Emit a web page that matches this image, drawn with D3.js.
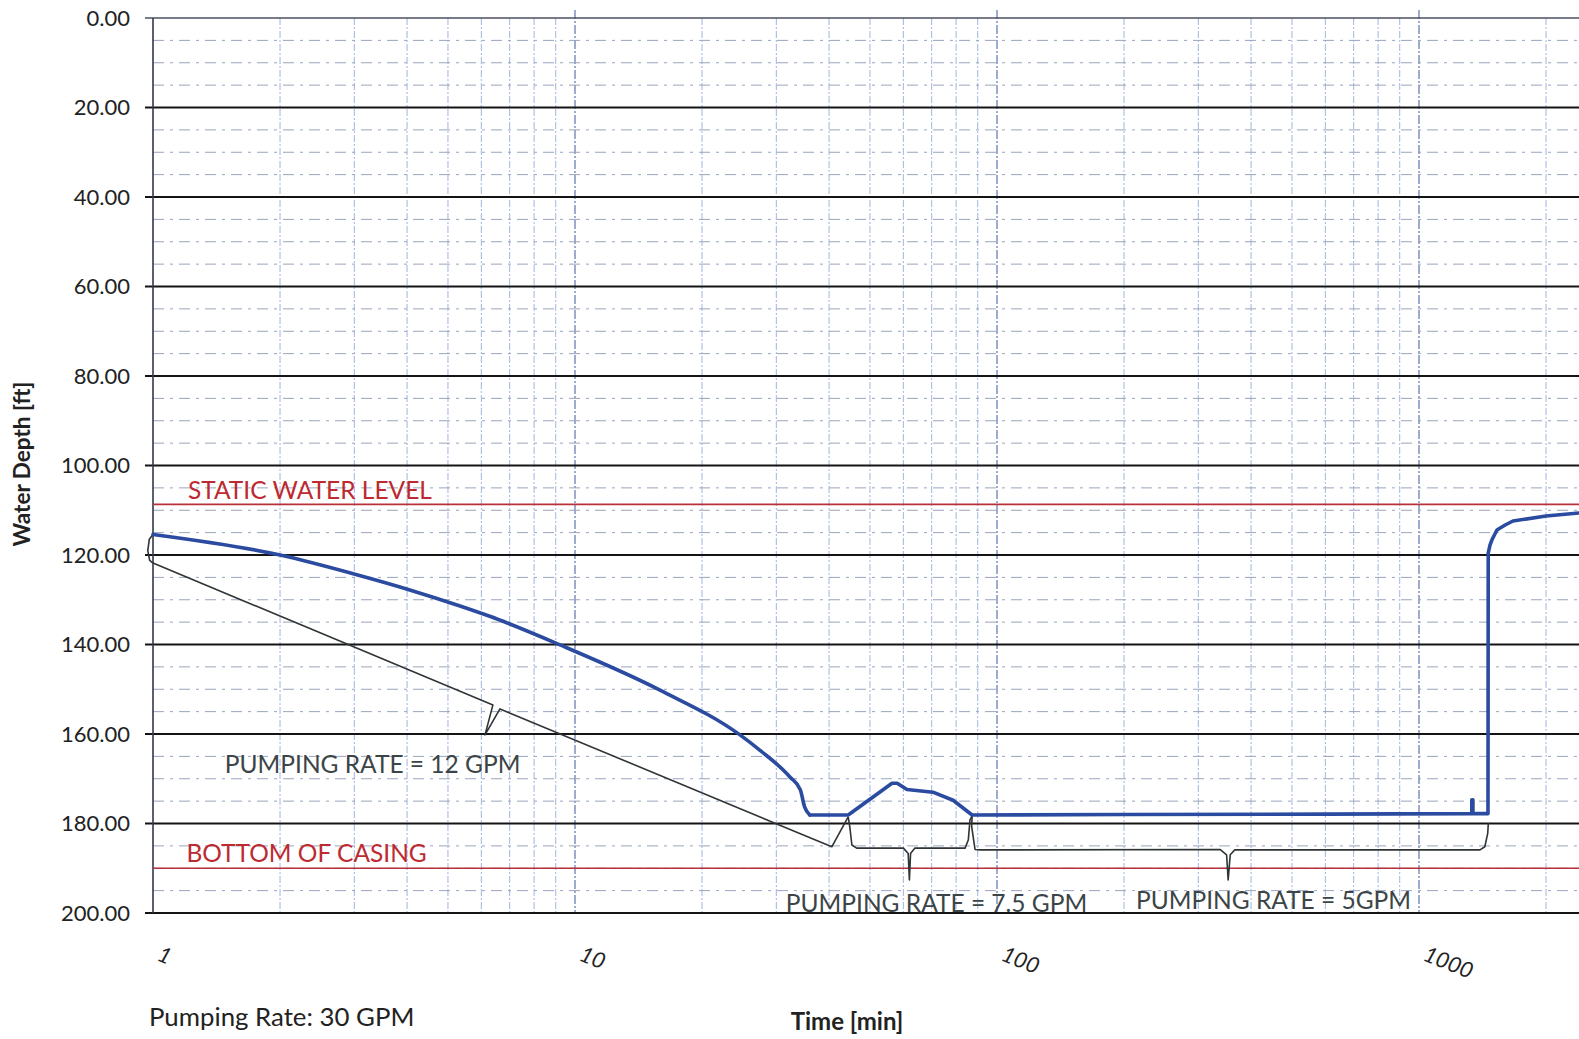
<!DOCTYPE html>
<html>
<head>
<meta charset="utf-8">
<script src="https://cdn.jsdelivr.net/npm/d3@7"></script>
<style>
  body { margin: 0; background: #fff; }
  text { font-family: Lato, "Open Sans", sans-serif; }
</style>
</head>
<body>
<svg id="chart" width="1579" height="1039" viewBox="0 0 1579 1039"></svg>
<script>
// pump test readings: time [min] and water depth [ft]
// drawdown part (smooth)
const drawdown_t = [1, 2, 3.04, 4.06, 5.34, 6.28, 9.22, 15.9, 24.6, 27.4, 32.3, 34.2, 35.0, 36.0];
const drawdown_d = [115.4, 120.0, 124.4, 127.8, 131.4, 133.7, 140.1, 150.2, 160.2, 163.6, 169.6, 172.5, 176.3, 178.1];
// rest of test and recovery
const later_t = [36.0, 44.4, 56.4, 58.0, 61.2, 70.5, 78.7, 87.3, 200, 600, 1330, 1334, 1334, 1342, 1342, 1457,
    1459, 1473, 1489, 1530, 1600, 1670, 2000, 2393];
const later_d = [178.1, 178.1, 171.0, 171.0, 172.4, 173.0, 174.8, 178.1, 178.0, 177.9, 177.8, 177.8, 174.7, 174.7, 177.8, 177.8,
    119.6, 117.8, 116.6, 114.4, 113.3, 112.4, 111.3, 110.6];

const y_ticks = [0, 20, 40, 60, 80, 100, 120, 140, 160, 180, 200];
const x_ticks = [1, 10, 100, 1000];

const static_level = 108.7;
const casing_bottom = 190;

// hand drawn brackets, [time, depth]
const bracket_12 = [[1, 115.4], [0.98, 116.5], [0.972, 119], [0.982, 121.2], [1, 121.8],
    [6.39, 153.5], [6.12, 160.2], [6.64, 154.4], [40.6, 185.2], [44.4, 178.5]];
const bracket_75 = [[44.4, 178.5], [44.8, 180.8], [45.3, 184.8], [46.5, 185.5], [60.0, 185.5],
    [61.6, 186.7], [62.0, 192.6], [62.4, 186.7], [63.9, 185.5], [84.0, 185.5], [85.5, 183.7],
    [86.3, 179.2], [87.3, 178.3]];
const bracket_5 = [[87.3, 178.3], [87.1, 180.7], [88.7, 185.8], [91.1, 185.9], [337.6, 185.8],
    [350, 187], [353, 192.6], [357, 187], [366, 185.9], [1395, 185.9], [1432, 185.2],
    [1455, 182.2], [1460, 179.9]];

const notes = [
    {t: 1.21, d: 107.5, text: "STATIC WATER LEVEL", color: "#bd2a30"},
    {t: 1.20, d: 188.6, text: "BOTTOM OF CASING", color: "#bd2a30"},
    {t: 1.48, d: 168.7, text: "PUMPING RATE = 12 GPM", color: "#3b4547"},
    {t: 31.6, d: 199.8, text: "PUMPING RATE = 7.5 GPM", color: "#3b4547"},
    {t: 213.5, d: 199.1, text: "PUMPING RATE = 5GPM", color: "#3b4547"}
];

const svg = d3.select("#chart");
const width = 1579;

const x = d3.scaleLog().domain([1, 1000]).range([153, 1419]);
const y = d3.scaleLinear().domain([0, 200]).range([18, 913]);

// vertical log grid
let minor_x = [];
[1, 10, 100, 1000].forEach(dec => {
    for (let k = 2; k <= 9; k++) minor_x.push(dec * k);
});
minor_x = minor_x.filter(v => x(v) < width);

const grid = svg.append("g");
grid.selectAll(".vminor")
    .data(minor_x)
    .enter()
    .append("line")
    .attr("x1", d => x(d)).attr("x2", d => x(d))
    .attr("y1", y(0)).attr("y2", y(200))
    .attr("stroke", "#a9bce2")
    .attr("stroke-width", 1.1)
    .attr("stroke-dasharray", "7,2,2,2");
grid.selectAll(".vmajor")
    .data([10, 100, 1000])
    .enter()
    .append("line")
    .attr("x1", d => x(d)).attr("x2", d => x(d))
    .attr("y1", y(0) - 8).attr("y2", y(200))
    .attr("stroke", "#8598c2")
    .attr("stroke-width", 1.6)
    .attr("stroke-dasharray", "9,2,2,2");

// horizontal minor grid every 5 ft
const minor_y = d3.range(5, 200, 5).filter(v => v % 20 !== 0);
grid.selectAll(".hminor")
    .data(minor_y)
    .enter()
    .append("line")
    .attr("x1", x(1)).attr("x2", width)
    .attr("y1", d => y(d)).attr("y2", d => y(d))
    .attr("stroke", "#98a4bd")
    .attr("stroke-width", 1)
    .attr("stroke-dasharray", "11,6,3,6");

// top border
grid.append("line")
    .attr("x1", x(1) - 8).attr("x2", width)
    .attr("y1", y(0)).attr("y2", y(0))
    .attr("stroke", "#4a5060")
    .attr("stroke-width", 1.4);

// major horizontal lines
grid.selectAll(".hmajor")
    .data(y_ticks.filter(v => v > 0))
    .enter()
    .append("line")
    .attr("x1", x(1) - 8).attr("x2", width)
    .attr("y1", d => y(d)).attr("y2", d => y(d))
    .attr("stroke", "#141414")
    .attr("stroke-width", 2);

// left axis line
grid.append("line")
    .attr("x1", x(1)).attr("x2", x(1))
    .attr("y1", y(0)).attr("y2", y(200))
    .attr("stroke", "#33384a")
    .attr("stroke-width", 1.6);

// y tick labels
svg.append("g").selectAll("text")
    .data(y_ticks)
    .enter()
    .append("text")
    .attr("x", 130)
    .attr("y", d => y(d))
    .attr("dy", "0.36em")
    .attr("text-anchor", "end")
    .attr("font-size", 22)
    .attr("fill", "#222")
    .text(d => d.toFixed(2));

// x tick labels, slanted
svg.append("g").selectAll("text")
    .data(x_ticks)
    .enter()
    .append("text")
    .attr("transform", d => `translate(${x(d) + 3},${960}) rotate(22)`)
    .attr("font-size", 22)
    .attr("font-style", "italic")
    .attr("fill", "#222")
    .text(d => d);

// reference levels
svg.append("g").selectAll("line")
    .data([static_level, casing_bottom])
    .enter()
    .append("line")
    .attr("x1", x(1)).attr("x2", width)
    .attr("y1", d => y(d)).attr("y2", d => y(d))
    .attr("stroke", "#b8303a")
    .attr("stroke-width", 1.7);

// brackets
const bline = d3.line().x(d => x(d[0])).y(d => y(d[1]));
svg.append("g").selectAll("path")
    .data([bracket_12, bracket_75, bracket_5])
    .enter()
    .append("path")
    .attr("d", bline)
    .attr("fill", "none")
    .attr("stroke", "#2f3436")
    .attr("stroke-width", 1.6)
    .attr("stroke-linejoin", "round");

// water depth curve
const part1 = drawdown_t.map((t, i) => ({t: t, d: drawdown_d[i]}));
const part2 = later_t.map((t, i) => ({t: t, d: later_d[i]}));
const smooth = d3.line().x(d => x(d.t)).y(d => y(d.d)).curve(d3.curveMonotoneX);
const plain = d3.line().x(d => x(d.t)).y(d => y(d.d));
const water = svg.append("g")
    .attr("fill", "none")
    .attr("stroke", "#2b4ba0")
    .attr("stroke-width", 3.6)
    .attr("stroke-linejoin", "round")
    .attr("stroke-linecap", "round");
water.append("path").attr("d", smooth(part1));
water.append("path").attr("d", plain(part2));

// annotation texts
svg.append("g").selectAll("text")
    .data(notes)
    .enter()
    .append("text")
    .attr("x", d => x(d.t))
    .attr("y", d => y(d.d))
    .attr("font-size", 24.5)
    .attr("fill", d => d.color)
    .text(d => d.text);

// axis titles
svg.append("text")
    .attr("transform", "translate(30,464) rotate(-90)")
    .attr("text-anchor", "middle")
    .attr("font-size", 22.5)
    .attr("font-weight", "bold")
    .attr("fill", "#222")
    .text("Water Depth [ft]");

svg.append("text")
    .attr("x", 847)
    .attr("y", 1030)
    .attr("text-anchor", "middle")
    .attr("font-size", 24)
    .attr("font-weight", "bold")
    .attr("fill", "#222")
    .text("Time [min]");

svg.append("text")
    .attr("x", 149)
    .attr("y", 1026)
    .attr("font-size", 25.8)
    .attr("fill", "#222")
    .text("Pumping Rate: 30 GPM");
</script>
</body>
</html>
